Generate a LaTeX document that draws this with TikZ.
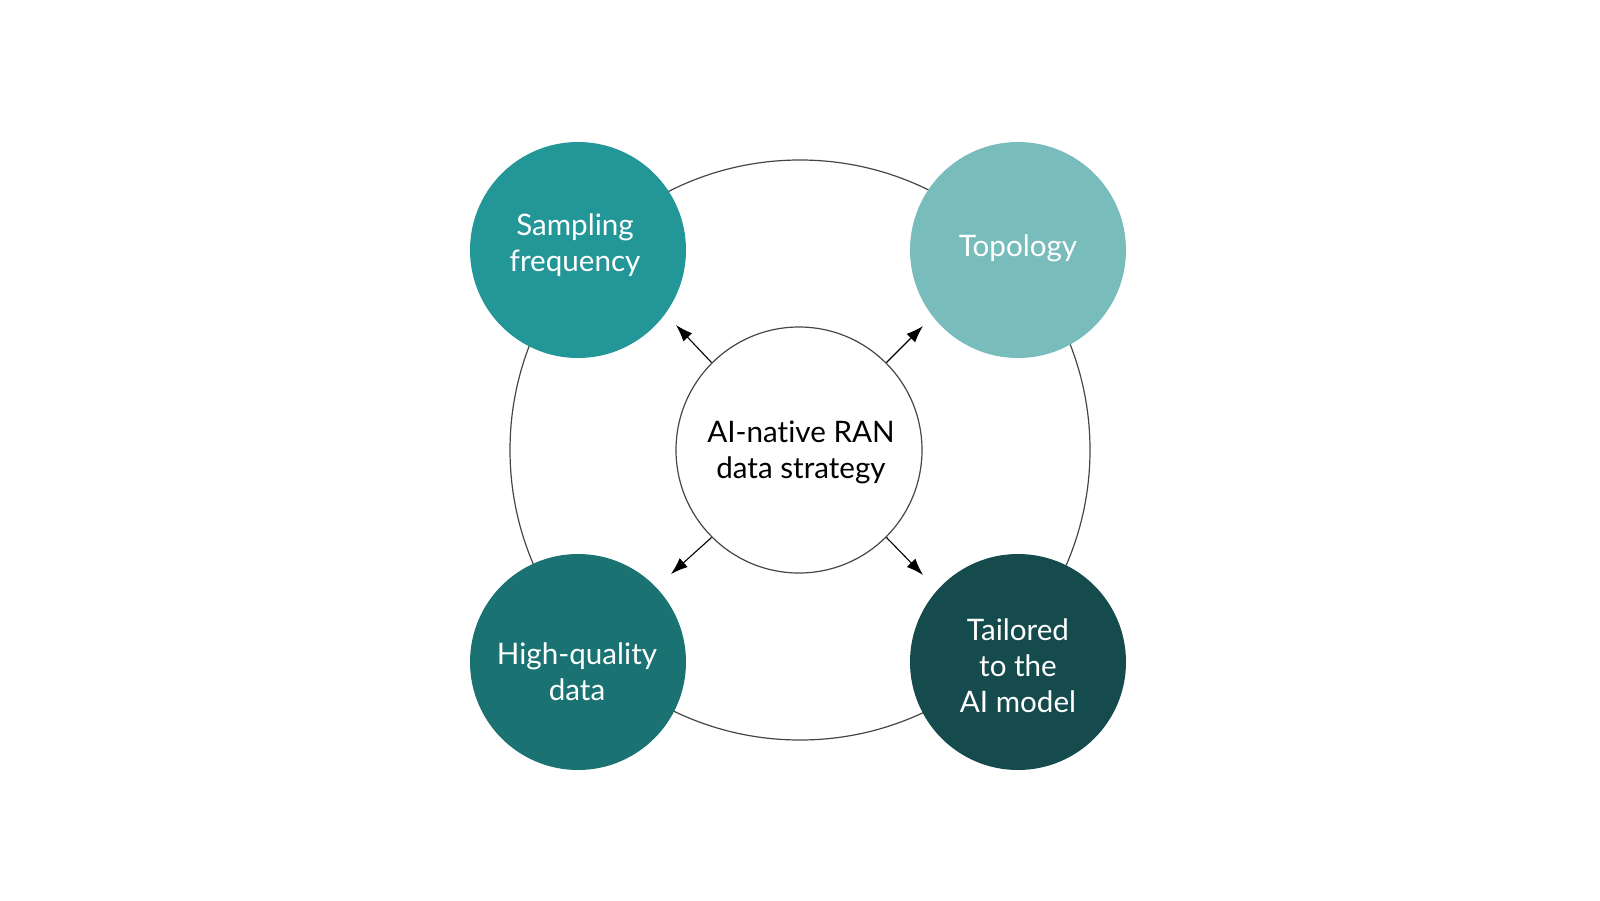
\documentclass[tikz,border=0pt]{standalone}
\usepackage{fontspec}
\setmainfont{Lato}[Ligatures=NoCommon]
\usetikzlibrary{arrows.meta,calc}
\definecolor{cTL}{RGB}{35,150,152}
\definecolor{cTR}{RGB}{121,188,188}
\definecolor{cBL}{RGB}{26,115,114}
\definecolor{cBR}{RGB}{21,75,76}
\definecolor{lineg}{RGB}{70,70,70}
\begin{document}
\begin{tikzpicture}[x=0.5pt,y=-0.5pt,
  bub/.style={circle,minimum size=108pt,inner sep=0pt,text=white,align=center,
    font=\fontsize{14.8}{18}\selectfont},
  txt/.style={text=white,align=center,font=\fontsize{14.8}{18}\selectfont,inner sep=0pt},
  ringline/.style={draw=lineg,line width=0.6pt},
  arr/.style={-{Latex[length=8.5pt,width=6pt]},line width=0.55pt,draw=black}]
\useasboundingbox (0,0) rectangle (1600,900);
\node[circle,ringline,minimum size=290pt,inner sep=0pt] (ring) at (800,450) {};
\node[circle,ringline,fill=white,minimum size=123pt,inner sep=0pt] (c) at (799,450) {};
\node[inner sep=0pt,align=center,font=\fontsize{14.8}{18}\selectfont] (ct) at (801,452) {AI-native RAN\\data strategy};
\node[bub,fill=cTL] (tl) at (578,250) {};
\node[bub,fill=cTR] (tr) at (1018,250) {};
\node[bub,fill=cBL] (bl) at (578,662) {};
\node[bub,fill=cBR] (br) at (1018,662) {};
\node[txt] (tlt) at (575,245) {Sampling\\frequency};
\node[txt] (trt) at (1018,248) {Topology};
\node[txt] (blt) at (577,672) {High-quality\\data};
\node[txt] (brt) at (1018,666) {Tailored\\to the\\AI model};
\coordinate (etl) at ($(c)+(-123,-125)$);
\coordinate (etr) at ($(c)+(124,-124)$);
\coordinate (ebl) at ($(c)+(-128,124)$);
\coordinate (ebr) at ($(c)+(124,125)$);
\draw[arr] (c.135) -- (etl);
\draw[arr] (c.45) -- (etr);
\draw[arr] (c.225) -- (ebl);
\draw[arr] (c.315) -- (ebr);
\end{tikzpicture}
\end{document}
